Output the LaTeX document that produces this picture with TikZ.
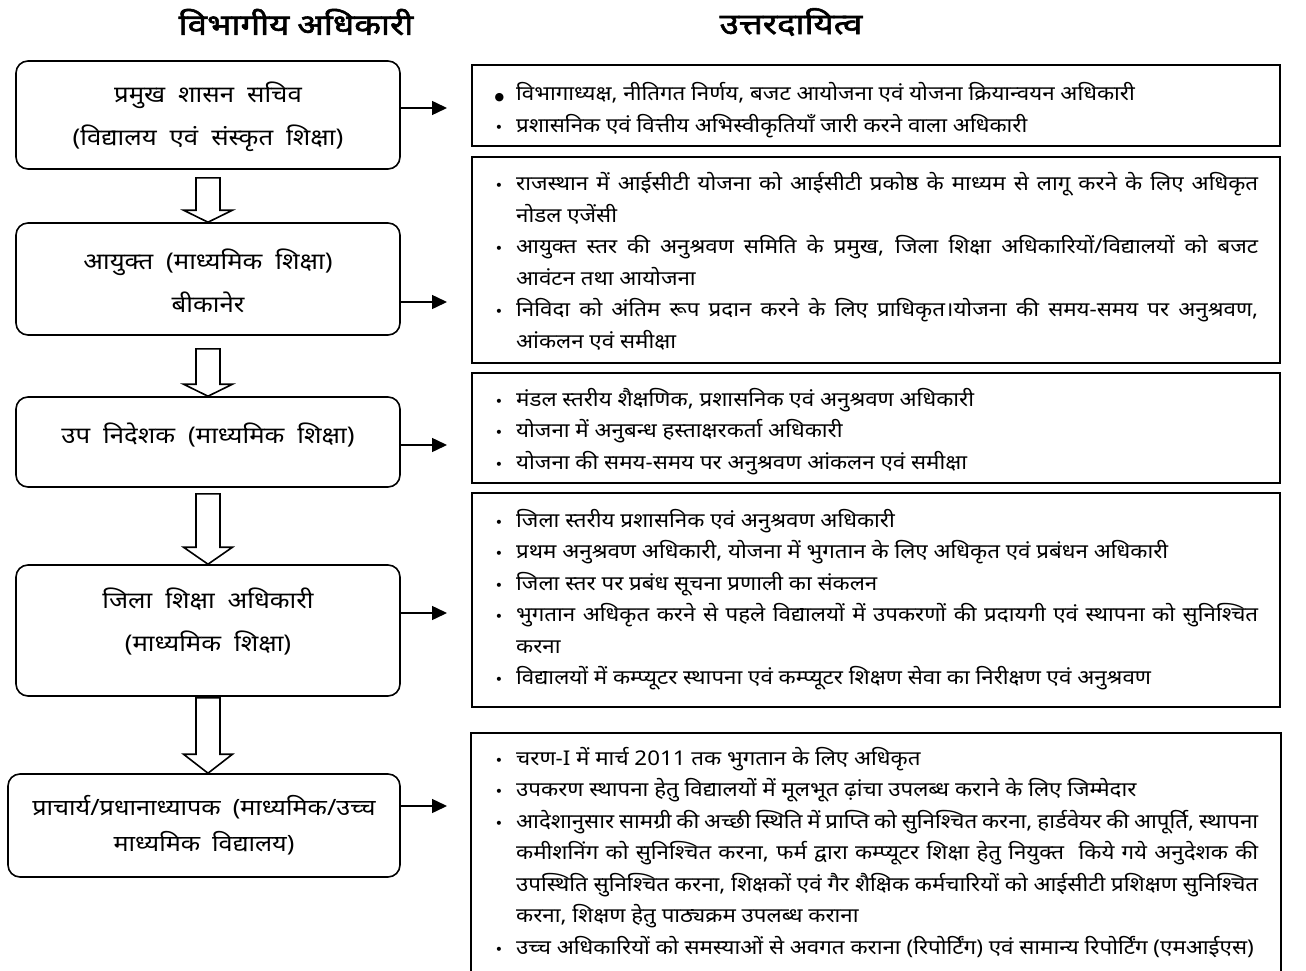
\documentclass[tikz,border=0pt]{standalone}
\usepackage{fontspec}
\setmainfont{Noto Sans}[Script=Devanagari]
\newfontfamily\lfont{Noto Sans}[Script=Devanagari,FakeStretch=1.12]
\newfontfamily\rfont{Noto Sans}[Script=Devanagari,FakeStretch=1.1]
\newfontfamily\tfont{Noto Sans}[Script=Devanagari,FakeStretch=1.2,FakeBold=2]
\newfontfamily\symfont{DejaVu Sans}
\usetikzlibrary{arrows.meta,calc}
\newcommand\blockarrow[4]{%
  \draw[barrow] let \p1=(#1.south), \p2=(#2.north) in
    (\x1-12pt,\y1-#3) -- (\x1+12pt,\y1-#3) -- (\x1+12pt,\y2+#4) --
    (\x1+24.5pt,\y2+#4) -- (\x1,\y2) -- (\x1-24.5pt,\y2+#4) --
    (\x1-12pt,\y2+#4) -- cycle;}
\newcommand\bul{\noindent\llap{\fontsize{14}{14}\selectfont\symfont •\hspace{13pt}}}
\newcommand\jline[1]{\makebox[\linewidth][s]{#1}}
\begin{document}
\begin{tikzpicture}[x=1pt,y=-1pt,
  lbox/.style={draw, line width=1.6pt, rounded corners=12pt, inner sep=0pt},
  rbox/.style={draw, line width=1.6pt, inner sep=0pt, minimum width=808pt},
  ltext/.style={align=center, font={\lfont\fontsize{23}{43}\selectfont\spaceskip=13pt plus 2pt}, inner sep=0pt},
  rtext/.style={inner sep=0pt, anchor=base west, font=\rfont\fontsize{20.3}{31.5}\selectfont},
  conn/.style={line width=1.5pt, -{Triangle[length=15pt,width=14pt]}},
  barrow/.style={line width=1.6pt, fill=white},
  title/.style={font={\tfont\fontsize{29}{29}\selectfont\spaceskip=8pt}, inner sep=0pt}]
\useasboundingbox[fill=white] (0,0) rectangle (1306,971);

% titles
\node[title] (h1) at (296,22) {विभागीय अधिकारी};
\node[title] (h2) at (791,22) {उत्तरदायित्व};

% left boxes
\node[lbox, minimum width=384pt, minimum height=108pt] (b1) at (208,115) {};
\node[ltext] (t1) at (208,116.5) {प्रमुख शासन सचिव\\(विद्यालय एवं संस्कृत शिक्षा)};
\node[lbox, minimum width=384pt, minimum height=112pt] (b2) at (208,279) {};
\node[ltext] (t2) at (208,280.5) {आयुक्त (माध्यमिक शिक्षा)\\बीकानेर};
\node[lbox, minimum width=384pt, minimum height=90pt] (b3) at (208,442) {};
\node[ltext] (t3) at (208,435) {उप निदेशक (माध्यमिक शिक्षा)};
\node[lbox, minimum width=384pt, minimum height=131pt] (b4) at (208,630.5) {};
\node[ltext] (t4) at (208,621.5) {जिला शिक्षा अधिकारी\\(माध्यमिक शिक्षा)};
\node[lbox, minimum width=392pt, minimum height=103pt] (b5) at (204,825.5) {};
\node[ltext, font={\lfont\fontsize{22.5}{36}\selectfont\spaceskip=12pt plus 2pt}] (t5) at (204,825) {प्राचार्य/प्रधानाध्यापक (माध्यमिक/उच्च\\माध्यमिक विद्यालय)};

% block arrows
\blockarrow{b1}{b2}{8pt}{12pt}
\blockarrow{b2}{b3}{13pt}{12pt}
\blockarrow{b3}{b4}{6pt}{17pt}
\blockarrow{b4}{b5}{1pt}{19pt}

% right boxes
\node[rbox, minimum height=81pt] (r1) at (876,105.5) {};
\node[rbox, minimum height=206pt] (r2) at (876,260) {};
\node[rbox, minimum height=110pt] (r3) at (876,428) {};
\node[rbox, minimum height=214pt] (r4) at (876,600) {};
\node[rbox, draw=none, minimum height=250pt] (r5) at (876,859) {};
\draw[line width=1.6pt] (r5.south west) -- (r5.north west) -- (r5.north east) -- (r5.south east);

% connectors
\coordinate (e1) at (447,108);
\coordinate (e2) at (447,302);
\coordinate (e3) at (447,445);
\coordinate (e4) at (447,613);
\coordinate (e5) at (447,806);
\draw[conn] (b1.east |- e1) -- (e1);
\draw[conn] (b2.east |- e2) -- (e2);
\draw[conn] (b3.east |- e3) -- (e3);
\draw[conn] (b4.east |- e4) -- (e4);
\draw[conn] (b5.east |- e5) -- (e5);

% right texts
\node[rtext] (x1) at (516,101) {\begin{minipage}[t]{742pt}\fontsize{20.3}{32}\selectfont
\noindent\llap{\fontsize{11}{11}\selectfont\symfont ●\hspace{12pt}}विभागाध्यक्ष, नीतिगत निर्णय, बजट आयोजना एवं योजना क्रियान्वयन अधिकारी\par
\bul प्रशासनिक एवं वित्तीय अभिस्वीकृतियाँ जारी करने वाला अधिकारी\end{minipage}};

\node[rtext] (x2) at (516,190.5) {\begin{minipage}[t]{742pt}
\bul\jline{राजस्थान में आईसीटी योजना को आईसीटी प्रकोष्ठ के माध्यम से लागू करने के लिए अधिकृत}\par
\noindent नोडल एजेंसी\par
\bul\jline{आयुक्त स्तर की अनुश्रवण समिति के प्रमुख, जिला शिक्षा अधिकारियों/विद्यालयों को बजट}\par
\noindent आवंटन तथा आयोजना\par
\bul\jline{निविदा को अंतिम रूप प्रदान करने के लिए प्राधिकृत।योजना की समय-समय पर अनुश्रवण,}\par
\noindent आंकलन एवं समीक्षा\end{minipage}};

\node[rtext] (x3) at (516,406) {\begin{minipage}[t]{742pt}
\bul मंडल स्तरीय शैक्षणिक, प्रशासनिक एवं अनुश्रवण अधिकारी\par
\bul योजना में अनुबन्ध हस्ताक्षरकर्ता अधिकारी\par
\bul योजना की समय-समय पर अनुश्रवण आंकलन एवं समीक्षा\end{minipage}};

\node[rtext] (x4) at (516,527) {\begin{minipage}[t]{742pt}
\bul जिला स्तरीय प्रशासनिक एवं अनुश्रवण अधिकारी\par
\bul प्रथम अनुश्रवण अधिकारी, योजना में भुगतान के लिए अधिकृत एवं प्रबंधन अधिकारी\par
\bul जिला स्तर पर प्रबंध सूचना प्रणाली का संकलन\par
\bul\jline{भुगतान अधिकृत करने से पहले विद्यालयों में उपकरणों की प्रदायगी एवं स्थापना को सुनिश्चित}\par
\noindent करना\par
\bul विद्यालयों में कम्प्यूटर स्थापना एवं कम्प्यूटर शिक्षण सेवा का निरीक्षण एवं अनुश्रवण\end{minipage}};

\node[rtext] (x5) at (516,765) {\begin{minipage}[t]{742pt}
\bul चरण-I में मार्च 2011 तक भुगतान के लिए अधिकृत\par
\bul उपकरण स्थापना हेतु विद्यालयों में मूलभूत ढ़ांचा उपलब्ध कराने के लिए जिम्मेदार\par
\bul\jline{आदेशानुसार सामग्री की अच्छी स्थिति में प्राप्ति को सुनिश्चित करना, हार्डवेयर की आपूर्ति, स्थापना}\par
\noindent\jline{कमीशनिंग को सुनिश्चित करना, फर्म द्वारा कम्प्यूटर शिक्षा हेतु नियुक्त\ \ किये गये अनुदेशक की}\par
\noindent\jline{उपस्थिति सुनिश्चित करना, शिक्षकों एवं गैर शैक्षिक कर्मचारियों को आईसीटी प्रशिक्षण सुनिश्चित}\par
\noindent करना, शिक्षण हेतु पाठ्यक्रम उपलब्ध कराना\par
\bul उच्च अधिकारियों को समस्याओं से अवगत कराना (रिपोर्टिंग) एवं सामान्य रिपोर्टिंग (एमआईएस)\end{minipage}};
\end{tikzpicture}
\end{document}
